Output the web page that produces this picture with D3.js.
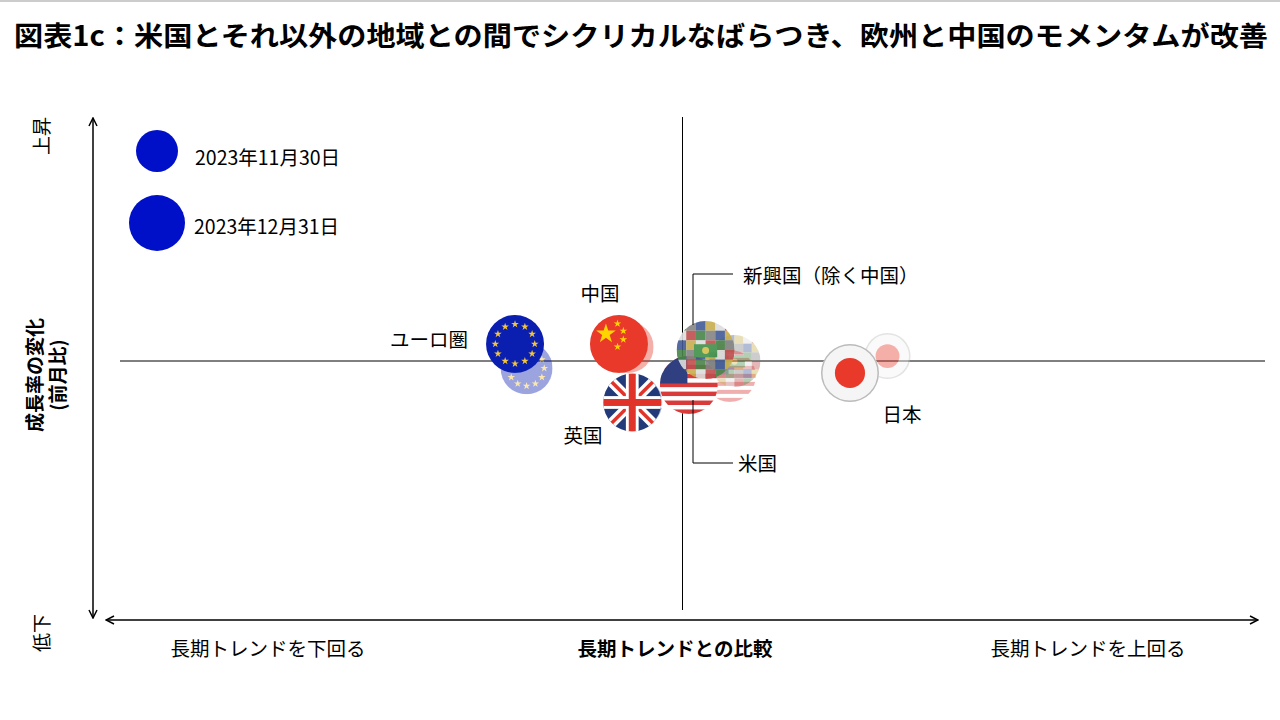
<!DOCTYPE html><html><head><meta charset="utf-8"><script src="https://cdn.jsdelivr.net/npm/d3@7"></script>
<style>body{margin:0;background:#fff}text{font-family:"Noto Sans CJK JP",sans-serif}</style></head><body><svg id="c" width="1280" height="720"></svg>
<script>
const regions=["eu","cn","uk","us","em","jp"];
const labels=["ユーロ圏","中国","英国","米国","新興国（除く中国）","日本"];
const novX=[-0.27,-0.095,-0.08,0.082,0.09,0.355];
const novY=[-0.03,0.057,-0.17,-0.061,0.0,0.02];
const decX=[-0.29,-0.11,-0.087,0.011,0.04,0.29];
const decY=[0.07,0.07,-0.17,-0.098,0.045,-0.049];
const legendLabels=["2023年11月30日","2023年12月31日"];
const svg=d3.select("#c");
const x=d3.scaleLinear().domain([-1,1]).range([105,1260]);
const y=d3.scaleLinear().domain([-1,1]).range([605,117]);
svg.append("line").attr("x1",0).attr("x2",1280).attr("y1",1).attr("y2",1).attr("stroke","#999");
svg.append("text").attr("x",14).attr("y",46).attr("font-size",27.5).attr("font-weight",700).attr("textLength",1254).attr("lengthAdjust","spacingAndGlyphs").text("図表1c：米国とそれ以外の地域との間でシクリカルなばらつき、欧州と中国のモメンタムが改善");
const defs=svg.append("defs");
defs.append("marker").attr("id","ar").attr("viewBox","0 0 10 10").attr("refX",9).attr("refY",5).attr("markerWidth",10).attr("markerHeight",10).attr("orient","auto-start-reverse").attr("markerUnits","userSpaceOnUse")
 .append("path").attr("d","M1,1L9,5L1,9").attr("fill","none").attr("stroke","#000").attr("stroke-width",1.5);
svg.append("line").attr("x1",93).attr("x2",93).attr("y1",118).attr("y2",618).attr("stroke","#000").attr("stroke-width",1.5).attr("marker-start","url(#ar)").attr("marker-end","url(#ar)");
svg.append("line").attr("x1",106).attr("x2",1258).attr("y1",620).attr("y2",620).attr("stroke","#000").attr("stroke-width",1.5).attr("marker-start","url(#ar)").attr("marker-end","url(#ar)");
svg.append("line").attr("x1",120).attr("x2",1265).attr("y1",y(0)).attr("y2",y(0)).attr("stroke","#000");
svg.append("line").attr("x1",x(0)).attr("x2",x(0)).attr("y1",117).attr("y2",610).attr("stroke","#000");
const vt=(t,xx,yy)=>svg.append("text").attr("transform",`translate(${xx},${yy}) rotate(-90)`).attr("text-anchor","middle").attr("font-size",19).text(t);
vt("上昇",49,136);vt("低下",49,633);
const yl=svg.append("text").attr("transform","translate(42,375) rotate(-90)").attr("text-anchor","middle").attr("font-size",19).attr("font-weight",700);
yl.append("tspan").attr("x",0).attr("dy",0).text("成長率の変化");yl.append("tspan").attr("x",0).attr("dy",23).text("(前月比)");
svg.append("text").attr("x",268).attr("y",656).attr("text-anchor","middle").attr("font-size",19.5).text("長期トレンドを下回る");
svg.append("text").attr("x",675).attr("y",656).attr("text-anchor","middle").attr("font-size",19.5).attr("font-weight",700).text("長期トレンドとの比較");
svg.append("text").attr("x",1088).attr("y",656).attr("text-anchor","middle").attr("font-size",19.5).text("長期トレンドを上回る");
svg.append("circle").attr("cx",157).attr("cy",151).attr("r",21).attr("fill","#0010c8");
svg.append("circle").attr("cx",157).attr("cy",223).attr("r",28).attr("fill","#0010c8");
svg.append("text").attr("x",195).attr("y",165).attr("font-size",19.5).text(legendLabels[0]);
svg.append("text").attr("x",194).attr("y",234).attr("font-size",19.5).text(legendLabels[1]);
let cid=0;
function flag(k,cx,cy,r,op){
 const id="cl"+(cid++);
 defs.append("clipPath").attr("id",id).append("circle").attr("cx",cx).attr("cy",cy).attr("r",r);
 const g=svg.append("g").attr("opacity",op);
 const gi=g.append("g").attr("clip-path",`url(#${id})`);
 const rect=(x0,y0,w,h,c)=>gi.append("rect").attr("x",x0).attr("y",y0).attr("width",w).attr("height",h).attr("fill",c);
 if(k==="eu"){rect(cx-r,cy-r,2*r,2*r,"#0a1fb0");
  d3.range(12).forEach(i=>{const a=i*Math.PI/6;gi.append("path").attr("d",d3.symbol(d3.symbolStar,18)()).attr("transform",`translate(${cx+r*0.68*Math.cos(a)},${cy+r*0.68*Math.sin(a)})`).attr("fill","#f3c53a");});}
 if(k==="cn"){rect(cx-r,cy-r,2*r,2*r,"#e8392a");
  gi.append("path").attr("d",d3.symbol(d3.symbolStar,120)()).attr("transform",`translate(${cx-r*0.45},${cy-r*0.35})`).attr("fill","#ffd500");
  [[-0.05,-0.7],[0.15,-0.45],[0.15,-0.15],[-0.05,0.1]].forEach(p=>gi.append("path").attr("d",d3.symbol(d3.symbolStar,18)()).attr("transform",`translate(${cx+p[0]*r},${cy+p[1]*r})`).attr("fill","#ffd500"));}
 if(k==="uk"){rect(cx-r,cy-r,2*r,2*r,"#233a7a");
  [[1,1],[1,-1]].forEach(d=>{gi.append("line").attr("x1",cx-r*d[0]).attr("y1",cy-r*d[1]).attr("x2",cx+r*d[0]).attr("y2",cy+r*d[1]).attr("stroke","#fff").attr("stroke-width",r*0.35);
   gi.append("line").attr("x1",cx-r*d[0]).attr("y1",cy-r*d[1]).attr("x2",cx+r*d[0]).attr("y2",cy+r*d[1]).attr("stroke","#e0342a").attr("stroke-width",r*0.12);});
  rect(cx-r,cy-r*0.22,2*r,r*0.44,"#fff");rect(cx-r*0.22,cy-r,r*0.44,2*r,"#fff");
  rect(cx-r,cy-r*0.12,2*r,r*0.24,"#e0342a");rect(cx-r*0.12,cy-r,r*0.24,2*r,"#e0342a");}
 if(k==="us"){rect(cx-r,cy-r,2*r,2*r,"#fff");
  d3.range(7).forEach(i=>rect(cx-r,cy-r+i*2*r/6.5,2*r,r/6.5,"#d93a3a"));
  rect(cx-r,cy-r,r*0.95,r*0.95,"#2f3f7f");}
 if(k==="em"){const cols=["#3a8a3a","#d94040","#ffffff","#e3c040","#3050a0","#888"];
  d3.range(6).forEach(i=>d3.range(6).forEach(j=>rect(cx-r+j*r/3,cy-r+i*r/3,r/3,r/3,cols[(i*2+j*5)%6])));
  rect(cx-r*0.4,cy-r*0.2,r*0.8,r*0.45,"#2e9a3a");gi.append("circle").attr("cx",cx).attr("cy",cy+0.02*r).attr("r",r*0.12).attr("fill","#f2d840");
  gi.append("circle").attr("cx",cx).attr("cy",cy).attr("r",r).attr("fill","rgba(120,120,120,0.25)");}
 if(k==="jp"){gi.append("circle").attr("cx",cx).attr("cy",cy).attr("r",r).attr("fill","#f5f5f5").attr("stroke","#bbb").attr("stroke-width",3);
  gi.append("circle").attr("cx",cx).attr("cy",cy).attr("r",r*0.52).attr("fill","#e8392a");}
}
regions.forEach((k,i)=>flag(k,x(novX[i]),y(novY[i]),k==="jp"?23:26,0.4));
regions.forEach((k,i)=>flag(k,x(decX[i]),y(decY[i]),29,k==="em"?0.9:1));
const lt=(t,xx,yy,a)=>svg.append("text").attr("x",xx).attr("y",yy).attr("font-size",19.5).attr("text-anchor",a||"start").text(t);
lt(labels[0],468,347,"end");lt(labels[1],600,301,"middle");lt(labels[2],583,443,"middle");lt(labels[5],902,422,"middle");
lt(labels[4],743,283);lt(labels[3],738,471);
svg.append("path").attr("d","M733,274H693V325").attr("fill","none").attr("stroke","#000");
svg.append("path").attr("d","M733,463H693V400").attr("fill","none").attr("stroke","#000");
</script></body></html>
